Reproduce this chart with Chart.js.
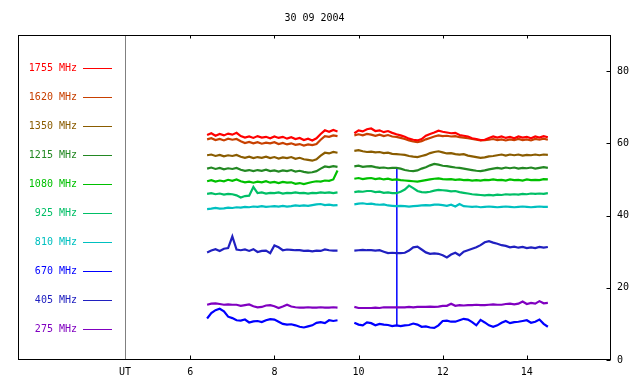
<!DOCTYPE html>
<html>
<head>
<meta charset="utf-8">
<script src="https://cdn.jsdelivr.net/npm/chart.js@4/dist/chart.umd.min.js"></script>
<style>
  body { margin: 0; background: #fff; }
  #wrap { width: 640px; height: 384px; }
</style>
</head>
<body>
<div id="wrap"><canvas id="myChart" width="640" height="384"></canvas></div>
<script>
// time axis (UT hours), 9.7 is the data gap
var ut = [6.4, 6.5, 6.6, 6.7, 6.8, 6.9, 7.0, 7.1, 7.2, 7.3, 7.4, 7.5, 7.6, 7.7, 7.8, 7.9,
  8.0, 8.1, 8.2, 8.3, 8.4, 8.5, 8.6, 8.7, 8.8, 8.9, 9.0, 9.1, 9.2, 9.3, 9.4, 9.5,
  9.7,
  9.9, 10.0, 10.1, 10.2, 10.3, 10.4, 10.5, 10.6, 10.7, 10.8, 10.9, 11.0, 11.1, 11.2, 11.3, 11.4,
  11.5, 11.6, 11.7, 11.8, 11.9, 12.0, 12.1, 12.2, 12.3, 12.4, 12.5, 12.6, 12.7, 12.8, 12.9, 13.0,
  13.1, 13.2, 13.3, 13.4, 13.5, 13.6, 13.7, 13.8, 13.9, 14.0, 14.1, 14.2, 14.3, 14.4, 14.5];

var xTicks = [4.45, 6, 8, 10, 12, 14];
var yTicks = [0, 20, 40, 60, 80];
var utMark = 4.45;

var labels = ["1755 MHz", "1620 MHz", "1350 MHz", "1215 MHz", "1080 MHz",
  "925 MHz", "810 MHz", "670 MHz", "405 MHz", "275 MHz"];
var colors = ["#ff0000", "#c84000", "#8a5c00", "#238823", "#00c000",
  "#00bf66", "#00c0c0", "#0000ff", "#2020c0", "#8000c0"];

var f1755 = [62.3, 62.8, 62.1, 62.6, 62.2, 62.7, 62.4, 62.9, 62.0, 61.6, 61.9, 61.5, 62.0, 61.6, 61.8, 61.4,
  61.9, 61.5, 61.8, 61.3, 61.7, 61.2, 61.5, 60.9, 61.3, 60.8, 61.4, 62.6, 63.6, 63.2, 63.7, 63.3,
  null,
  62.8, 63.6, 63.3, 63.9, 64.1, 63.4, 63.6, 63.1, 63.4, 62.9, 62.5, 62.2, 61.8, 61.3, 61.0, 60.8,
  61.2, 62.1, 62.6, 63.0, 63.5, 63.2, 63.0, 62.8, 62.9, 62.3, 62.1, 61.9, 61.4, 61.2, 60.9, 61.0,
  61.5, 61.9, 61.6, 61.9, 61.5, 61.8, 61.4, 61.9, 61.6, 61.8, 61.4, 61.9, 61.6, 62.0, 61.7];
var f1620 = [61.1, 61.4, 60.9, 61.2, 60.8, 61.3, 61.0, 61.2, 60.6, 60.1, 60.4, 60.0, 60.3, 59.9, 60.2, 60.0,
  60.3, 59.8, 60.1, 59.7, 60.0, 59.6, 59.8, 59.4, 59.7, 59.5, 59.8, 61.0, 62.0, 61.8, 62.2, 62.0,
  null,
  62.2, 62.5, 62.2, 62.6, 62.4, 62.1, 62.4, 62.0, 62.3, 61.9, 61.8, 61.5, 61.2, 60.8, 60.5, 60.3,
  60.6, 61.1, 61.5, 61.9, 62.2, 62.0, 62.1, 61.9, 62.0, 61.7, 61.6, 61.4, 61.2, 61.0, 60.8, 60.9,
  61.0, 61.2, 60.9, 61.1, 60.8, 61.1, 60.9, 61.2, 60.9, 61.1, 60.8, 61.2, 61.0, 61.3, 61.0];
var f1350 = [56.7, 56.9, 56.5, 56.8, 56.4, 56.7, 56.5, 56.8, 56.3, 56.0, 56.3, 55.9, 56.2, 56.0, 56.3, 55.9,
  56.2, 55.8, 56.1, 55.9, 56.2, 55.7, 56.0, 55.6, 55.4, 55.2, 55.6, 56.6, 57.4, 57.2, 57.6, 57.4,
  null,
  57.9, 58.1, 57.8, 57.6, 57.7, 57.5, 57.6, 57.3, 57.4, 57.1, 57.0, 56.9, 56.8, 56.5, 56.3, 56.2,
  56.5, 56.8, 57.3, 57.6, 57.8, 57.5, 57.2, 57.3, 57.0, 56.9, 57.0, 56.6, 56.4, 56.2, 56.0, 56.1,
  56.4, 56.5, 56.7, 56.9, 56.6, 56.9, 56.7, 56.9, 56.6, 56.8, 56.7, 56.9, 56.7, 56.9, 56.8];
var f1215 = [53.0, 53.3, 52.9, 53.2, 52.8, 53.1, 52.9, 53.2, 52.7, 52.4, 52.6, 52.3, 52.6, 52.4, 52.7, 52.3,
  52.5, 52.2, 52.5, 52.3, 52.6, 52.2, 52.4, 52.1, 51.9, 52.0, 52.3, 53.0, 53.6, 53.4, 53.7, 53.5,
  null,
  53.6, 53.8, 53.5, 53.6, 53.7, 53.4, 53.2, 53.3, 53.1, 53.2, 53.2, 53.0, 52.6, 52.4, 52.3, 52.5,
  53.0, 53.4, 53.9, 54.3, 54.1, 53.8, 53.7, 53.5, 53.3, 53.2, 53.0, 52.8, 52.6, 52.4, 52.3, 52.5,
  52.8, 53.0, 53.2, 53.0, 53.3, 53.1, 53.3, 53.0, 53.2, 53.1, 53.3, 53.0, 53.2, 53.4, 53.2];
var f1080 = [49.5, 49.8, 49.4, 49.7, 49.5, 49.9, 49.6, 50.0, 49.5, 49.2, 49.4, 49.1, 49.4, 49.2, 49.5, 49.1,
  49.3, 49.0, 49.3, 49.1, 49.2, 48.8, 49.0, 48.7, 49.0, 49.3, 49.5, 49.4, 49.7, 49.6, 50.0, 52.5,
  null,
  50.2, 50.4, 50.1, 50.3, 50.4, 50.1, 50.3, 50.0, 50.2, 49.9, 50.0, 49.8, 49.7, 49.6, 49.5, 49.4,
  49.6, 49.8, 50.0, 50.2, 50.3, 50.1, 50.0, 50.1, 49.9, 50.0, 49.8, 49.9, 49.7, 49.8, 49.7, 49.9,
  49.8, 50.0, 49.8, 49.9, 49.7, 50.0, 49.8, 49.9, 49.7, 50.0, 49.8, 49.9, 49.8, 50.1, 50.0];
var f925 = [46.0, 46.2, 45.9, 46.1, 45.8, 46.0, 45.9, 45.6, 45.0, 45.4, 45.5, 47.9, 46.2, 46.4, 46.1, 46.3,
  46.2, 46.4, 46.1, 46.3, 46.2, 46.4, 46.2, 46.3, 46.1, 46.3, 46.2, 46.4, 46.3, 46.4, 46.2, 46.4,
  null,
  46.5, 46.7, 46.6, 46.8, 46.8, 46.5, 46.6, 46.3, 46.4, 46.2, 46.2, 46.6, 47.2, 48.3, 47.6, 46.8,
  46.5, 46.4, 46.6, 46.9, 47.1, 47.0, 46.9, 46.7, 46.8, 46.5, 46.3, 46.1, 45.9, 45.8, 45.7, 45.6,
  45.7, 45.6, 45.8, 45.7, 45.9, 45.8, 45.9, 45.8, 46.0, 45.9, 46.1, 46.0, 46.1, 46.0, 46.2];
var f810 = [41.8, 41.9, 42.1, 41.9, 42.0, 42.2, 42.1, 42.3, 42.2, 42.4, 42.3, 42.5, 42.4, 42.6, 42.4, 42.5,
  42.6, 42.5, 42.7, 42.5, 42.6, 42.8, 42.7, 42.8, 42.7, 42.9, 43.1, 43.2, 42.9, 43.0, 42.8, 42.9,
  null,
  43.1, 43.3, 43.4, 43.2, 43.3, 43.1, 43.0, 43.1, 42.8, 42.7, 42.6, 42.7, 42.6, 42.5, 42.6, 42.7,
  42.8, 42.9, 42.8, 43.0, 43.0, 42.9, 42.7, 43.0, 42.5, 43.2, 42.6, 42.5, 42.4, 42.5, 42.3, 42.4,
  42.5, 42.4, 42.3, 42.4, 42.5, 42.4, 42.3, 42.4, 42.5, 42.4, 42.3, 42.4, 42.5, 42.4, 42.4];
var f670 = [11.5, 13.0, 13.8, 14.2, 13.5, 12.0, 11.6, 11.0, 10.9, 11.2, 10.4, 10.7, 10.8, 10.5, 11.0, 11.3,
  11.2, 10.6, 10.0, 9.8, 9.9, 9.6, 9.2, 9.0, 9.3, 9.6, 10.3, 10.5, 10.2, 11.0, 10.8, 11.0,
  null,
  10.3, 9.8, 9.6, 10.4, 10.2, 9.6, 10.0, 9.8, 9.7, 9.4, 9.6, 9.4, 9.6, 9.7, 10.1, 9.8,
  9.2, 9.3, 9.0, 8.9, 9.6, 10.8, 10.9, 10.6, 10.6, 11.0, 11.4, 11.2, 10.5, 9.6, 11.1, 10.4,
  9.6, 9.2, 9.6, 10.3, 10.8, 10.2, 10.5, 10.6, 10.8, 11.0, 10.3, 10.6, 11.2, 10.0, 9.2];
var f405 = [29.8, 30.3, 30.7, 30.2, 30.8, 31.0, 34.2, 30.6, 30.4, 30.6, 30.2, 30.7, 29.9, 30.2, 30.3, 29.6,
  31.7, 31.2, 30.4, 30.6, 30.5, 30.4, 30.4, 30.2, 30.3, 30.1, 30.3, 30.2, 30.6, 30.4, 30.3, 30.3,
  null,
  30.3, 30.4, 30.5, 30.4, 30.4, 30.3, 30.4, 30.0, 29.6, 29.7, 29.6, 29.6, 29.7, 30.3, 31.2, 31.4,
  30.6, 29.8, 29.4, 29.5, 29.4, 29.0, 28.4, 29.2, 29.7, 29.0, 30.0, 30.4, 30.8, 31.2, 31.8, 32.6,
  32.9, 32.5, 32.2, 31.8, 31.6, 31.2, 31.4, 31.1, 31.3, 31.0, 31.2, 31.0, 31.3, 31.1, 31.3];
var f275 = [15.3, 15.6, 15.7, 15.5, 15.3, 15.4, 15.3, 15.3, 15.0, 15.2, 15.4, 14.9, 14.6, 14.7, 15.1, 15.2,
  14.9, 14.4, 14.8, 15.3, 14.8, 14.6, 14.5, 14.5, 14.6, 14.5, 14.5, 14.6, 14.5, 14.5, 14.6, 14.5,
  null,
  14.7, 14.4, 14.4, 14.4, 14.4, 14.5, 14.4, 14.6, 14.6, 14.6, 14.6, 14.6, 14.6, 14.7, 14.6, 14.7,
  14.7, 14.7, 14.8, 14.7, 14.8, 15.0, 15.0, 15.6, 15.0, 15.2, 15.1, 15.2, 15.2, 15.3, 15.2, 15.2,
  15.3, 15.4, 15.3, 15.3, 15.5, 15.6, 15.4, 15.6, 16.2, 15.5, 15.8, 15.6, 16.3, 15.7, 15.8];

// the single 670 MHz spike at ~10.91 UT
var spikeUT = [10.91, 10.91];
var spikeVal = [9.6, 53];

var series = [f1755, f1620, f1350, f1215, f1080, f925, f810, f670, f405, f275];

Chart.defaults.font.family = "'DejaVu Sans Mono', monospace";
Chart.defaults.font.size = 10;
Chart.defaults.color = "#000";

var datasets = series.map(function (vals, i) {
  return {
    label: labels[i],
    data: vals.map(function (v, j) { return { x: ut[j], y: v }; }),
    borderColor: colors[i],
    backgroundColor: colors[i],
    borderWidth: 2.2,
    pointRadius: 0,
    tension: 0,
    spanGaps: false
  };
});
datasets.push({
  label: "",
  data: spikeUT.map(function (t, j) { return { x: t, y: spikeVal[j] }; }),
  borderColor: colors[7],
  borderWidth: 1.5,
  pointRadius: 0
});

// frame, inward ticks, UT divider and left-hand legend
var framePlugin = {
  id: "frame",
  beforeDatasetsDraw: function (chart) {
    var ctx = chart.ctx, a = chart.chartArea;
    var xs = chart.scales.x;
    var ux = Math.round(xs.getPixelForValue(utMark)) + 0.5;
    ctx.save();
    ctx.strokeStyle = "#808080";
    ctx.lineWidth = 1;
    ctx.beginPath();
    ctx.moveTo(ux, a.top);
    ctx.lineTo(ux, a.bottom);
    ctx.stroke();
    ctx.restore();
  },
  afterDraw: function (chart) {
    var ctx = chart.ctx, a = chart.chartArea;
    var xs = chart.scales.x, ys = chart.scales.y;
    ctx.save();
    ctx.strokeStyle = "#000";
    ctx.lineWidth = 1;
    var l = Math.round(a.left) + 0.5, r = Math.round(a.right) - 0.5;
    var t = Math.round(a.top) + 0.5, b = Math.round(a.bottom) - 0.5;
    ctx.strokeRect(l, t, r - l, b - t);
    ctx.beginPath();
    xTicks.forEach(function (v) {
      if (v === utMark) return;
      var px = Math.round(xs.getPixelForValue(v)) + 0.5;
      ctx.moveTo(px, b); ctx.lineTo(px, b - 4);
      ctx.moveTo(px, t); ctx.lineTo(px, t + 3);
    });
    yTicks.forEach(function (v) {
      var py = Math.round(ys.getPixelForValue(v)) + 0.5;
      ctx.moveTo(r, py); ctx.lineTo(r - 4, py);
    });
    ctx.stroke();

    ctx.font = "10px 'DejaVu Sans Mono', monospace";
    ctx.textBaseline = "middle";
    ctx.textAlign = "right";
    labels.forEach(function (lab, i) {
      var y = 68 + i * 29;
      ctx.fillStyle = colors[i];
      ctx.fillText(lab, 77, y);
      ctx.strokeStyle = colors[i];
      ctx.beginPath();
      ctx.moveTo(83, y + 0.5);
      ctx.lineTo(112, y + 0.5);
      ctx.stroke();
    });
    ctx.restore();
  }
};

var chart = new Chart(document.getElementById("myChart").getContext("2d"), {
  type: "line",
  data: { datasets: datasets },
  options: {
    responsive: false,
    animation: false,
    layout: { padding: { left: 18, right: 5, top: 0, bottom: 0 } },
    plugins: {
      legend: { display: false },
      tooltip: { enabled: false },
      title: {
        display: true,
        text: "30 09 2004",
        fullSize: false,
        color: "#000",
        font: { size: 10, weight: "normal" },
        padding: { top: 12, bottom: 11 }
      }
    },
    scales: {
      x: {
        type: "linear",
        min: 1.905,
        max: 16,
        grid: { display: false, drawTicks: false },
        border: { display: false },
        afterBuildTicks: function (s) {
          s.ticks = xTicks.map(function (v) { return { value: v }; });
        },
        ticks: {
          autoSkip: false,
          maxRotation: 0,
          padding: 6,
          callback: function (v) { return v === utMark ? "UT" : v; }
        }
      },
      y: {
        position: "right",
        min: 0,
        max: 90,
        grid: { display: false, drawTicks: false },
        border: { display: false },
        afterBuildTicks: function (s) {
          s.ticks = yTicks.map(function (v) { return { value: v }; });
        },
        ticks: { padding: 6 }
      }
    }
  },
  plugins: [framePlugin]
});
</script>
</body>
</html>
